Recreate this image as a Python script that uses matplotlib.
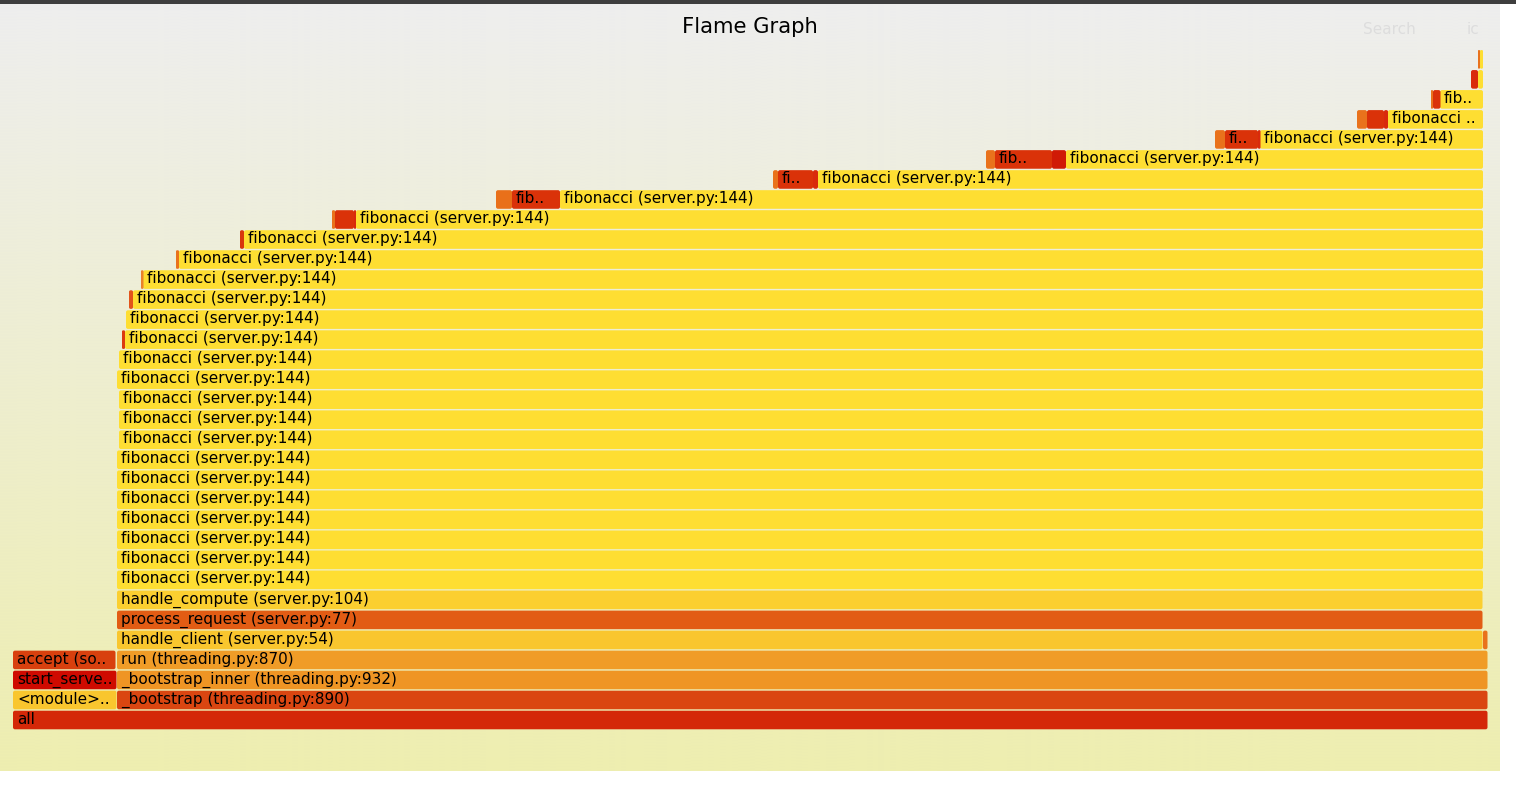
import numpy as np
import matplotlib
matplotlib.use("Agg")
import matplotlib.pyplot as plt
from matplotlib.patches import FancyBboxPatch

W, H = 1516, 788
TITLE = "Flame Graph"
SEARCH = "Search"
IC = "ic"
FIB = "fibonacci (server.py:144)"

# sample axis is shown in screen units
frame_rows = [0,
              1, 1, 2, 2, 3, 3,
              4, 4, 5, 6]
frame_starts = [13,
                13, 117, 13, 117, 13, 117,
                117, 1483, 117, 117]
frame_ends = [1487.5,
              116.5, 1487.5, 116.5, 1487.5, 115.5, 1487.5,
              1482.5, 1487.5, 1482.5, 1482.5]
frame_labels = ["all",
                "<module>..", "_bootstrap (threading.py:890)",
                "start_serve..", "_bootstrap_inner (threading.py:932)",
                "accept (so..", "run (threading.py:870)",
                "handle_client (server.py:54)", "",
                "process_request (server.py:77)",
                "handle_compute (server.py:104)"]
frame_colors = ["#d42808",
                "#f9c62e", "#da4611", "#cf0a00", "#ef9524", "#d8400e", "#f09c27",
                "#f9c62e", "#e9721c", "#e25c14", "#fbcf30"]

# main recursive fibonacci stack
fib_rows = list(range(7, 34))
fib_starts = [117, 117, 117, 117, 117, 117, 117,
              119, 119, 119, 117, 119,
              125, 126, 133, 143, 179, 244, 356, 560, 818, 1066, 1260, 1388, 1440, 1478, 1480]
fib_ends = [1483] * 27
fib_labels = [FIB] * 23 + ["fibonacci ..", "fib..", "", ""]

# side frames on the fibonacci rows
side_rows = [19, 21, 22, 23, 24,
             25, 25, 25, 26, 26,
             27, 27, 27, 28, 28, 28,
             29, 29, 29, 30, 30, 30,
             31, 31, 32, 33]
side_starts = [122, 129, 141, 176, 240,
               332, 335, 354, 496, 512,
               773, 778, 813, 986, 995, 1052,
               1215, 1225, 1258, 1357, 1367, 1384,
               1431, 1433, 1471, 1478]
side_ends = [125, 133, 143.5, 179, 244,
             335, 354, 356, 512, 560,
             778, 813, 818, 995, 1052, 1066,
             1225, 1258, 1260.5, 1367, 1384, 1388,
             1433, 1440.5, 1478, 1480]
side_labels = ["", "", "", "", "",
               "", "", "", "", "fib..",
               "", "fi..", "", "", "fib..", "",
               "", "fi..", "", "", "", "",
               "", "", "", ""]
side_colors = ["#dc3a10", "#e2541a", "#e9822a", "#e9721c", "#d8360c",
               "#e9721c", "#da3209", "#d92a0c", "#e9701a", "#da3209",
               "#e9721c", "#da3209", "#d92a0c", "#e9721c", "#da3209", "#d01a06",
               "#e9721c", "#da3209", "#d92a0c", "#e9721c", "#da3209", "#d92a0c",
               "#e9721c", "#da3209", "#d92a0c", "#e9721c"]
FIB_COLOR = "#fede32"

fig = plt.figure(figsize=(W / 100, H / 100), dpi=100, facecolor="white")
ax = fig.add_axes([0, 0, 1, 1])
ax.set_xlim(0, W)
ax.set_ylim(H, 0)
ax.axis("off")

# background gradient
grad = np.linspace(0, 1, 256)[:, None, None]
top = np.array([0xee, 0xee, 0xee]) / 255
bottom = np.array([0xee, 0xee, 0xb0]) / 255
ax.imshow(top + (bottom - top) * grad, extent=(0, 1500, 771.5, 4), aspect="auto", zorder=0)
ax.set_xlim(0, W)
ax.set_ylim(H, 0)
ax.fill_between([0, W], 0, 4, color="#3e3e3e", lw=0, zorder=1)


def row_top(row):
    return 710.7 - 20.02 * row


def draw(row, start, end, color, label):
    y = row_top(row)
    r = min(2, (end - start) / 2.5)
    ax.add_patch(FancyBboxPatch((start + r, y + r), max(end - start - 2 * r, 0.01), 18.6 - 2 * r,
                                boxstyle=f"round,pad={r},rounding_size={r}",
                                fc=color, ec="none", lw=0, zorder=2))
    if label:
        ax.text(start + 4, y + 12.9, label, fontsize=10.95, family="DejaVu Sans",
                color="#000000", va="baseline", ha="left", zorder=3)


for row, s, e, c, l in zip(frame_rows, frame_starts, frame_ends, frame_colors, frame_labels):
    draw(row, s, e, c, l)
for row, s, e, l in zip(fib_rows, fib_starts, fib_ends, fib_labels):
    draw(row, s, e, FIB_COLOR, l)
for row, s, e, c, l in zip(side_rows, side_starts, side_ends, side_colors, side_labels):
    draw(row, s, e, c, l)

ax.text(750, 26.5, TITLE, fontsize=15.2, family="DejaVu Sans", color="black",
        ha="center", va="center", zorder=3)
ax.text(1363, 29, SEARCH, fontsize=10.95, family="DejaVu Sans", color="#dddddd",
        ha="left", va="center", zorder=3)
ax.text(1479, 29, IC, fontsize=10.95, family="DejaVu Sans", color="#dddddd",
        ha="right", va="center", zorder=3)

fig.savefig("out.png", dpi=100, facecolor="white")
